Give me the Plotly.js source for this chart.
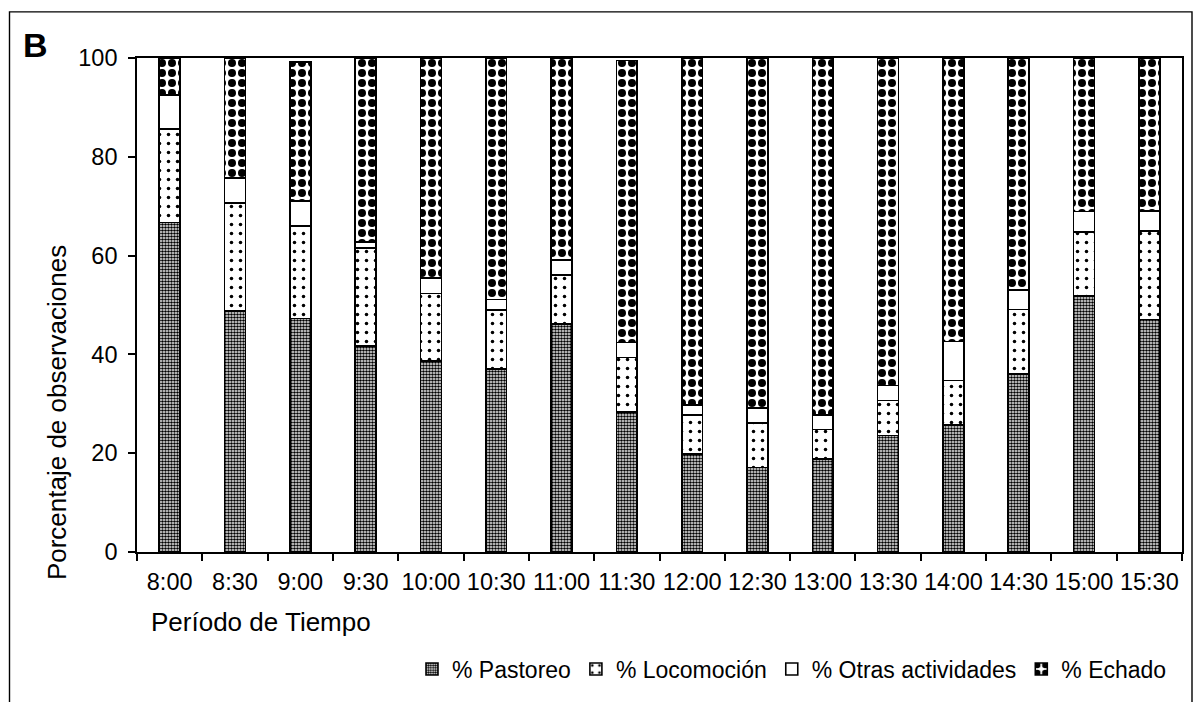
<!DOCTYPE html>
<html>
<head>
<meta charset="utf-8">
<script src="https://cdn.plot.ly/plotly-3.0.1.min.js"></script>
<style>
  html, body { margin: 0; padding: 0; background: #fff; }
  #chart { width: 1194px; height: 702px; }
</style>
</head>
<body>
<div id="chart"></div>
<script>
const periods = ["8:00","8:30","9:00","9:30","10:00","10:30","11:00","11:30","12:00","12:30","13:00","13:30","14:00","14:30","15:00","15:30"];
const pastoreo    = [66.7, 48.8, 47.3, 41.7, 38.7, 37.0, 46.2, 28.3, 19.8, 17.1, 18.8, 23.6, 25.7, 36.0, 51.8, 47.1];
const locomocion  = [18.9, 21.9, 18.7, 19.9, 13.6, 12.0,  9.9, 11.1,  7.9,  9.0,  6.0,  7.1,  9.0, 13.1, 13.0, 17.9];
const otras       = [ 6.9,  5.0,  5.1,  1.1,  3.2,  2.1,  3.0,  3.0,  2.0,  3.1,  2.9,  3.0,  7.9,  3.9,  4.1,  4.0];
const echado      = [ 7.5, 24.3, 28.1, 37.3, 44.5, 48.9, 40.9, 57.1, 70.3, 70.8, 72.3, 66.3, 57.4, 47.0, 31.1, 31.0];
const seriesNames = ["% Pastoreo", "% Locomoción", "% Otras actividades", "% Echado"];
const yTicks = [0, 20, 40, 60, 80, 100];

const FONT = "Liberation Sans, Arial, sans-serif";
const outline = { color: "#000", width: 1.6 };

function bar(name, values, pattern) {
  return {
    type: "bar",
    name: name,
    x: periods,
    y: values,
    marker: {
      color: "#ffffff",
      line: outline,
      pattern: pattern
    },
    hoverinfo: "x+y+name"
  };
}

const data = [
  bar(seriesNames[0], pastoreo,   { shape: ".", size: 3,  solidity: 0.6,  fgcolor: "#000", bgcolor: "#fff", fgopacity: 1 }),
  bar(seriesNames[1], locomocion, { shape: ".", size: 9,  solidity: 0.12, fgcolor: "#000", bgcolor: "#fff", fgopacity: 1 }),
  bar(seriesNames[2], otras,      { shape: "",  fgcolor: "#000", bgcolor: "#fff" }),
  bar(seriesNames[3], echado,     { shape: ".", size: 10, solidity: 0.5, fgcolor: "#000", bgcolor: "#fff", fgopacity: 1 })
];

// plot area: x 137..1182, y 58..556
const L = 137, R = 12, T = 58, B = 146;
const W = 1194 - L - R, H = 702 - T - B;
const px = v => (v - L) / W;
const py = v => (702 - B - v) / H;

const layout = {
  width: 1194,
  height: 702,
  margin: { l: L, r: R, t: T, b: B, pad: 0 },
  paper_bgcolor: "#fff",
  plot_bgcolor: "#fff",
  font: { family: FONT, size: 23, color: "#000" },
  barmode: "stack",
  bargap: 0.68,
  showlegend: true,
  legend: {
    orientation: "h",
    x: px(1172), xanchor: "right",
    y: py(674), yanchor: "middle",
    traceorder: "normal",
    font: { family: FONT, size: 23, color: "#000" },
    itemwidth: 30,
    bgcolor: "rgba(0,0,0,0)"
  },
  xaxis: {
    type: "category",
    showline: true, linecolor: "#000", linewidth: 1.6,
    mirror: true,
    ticks: "outside", ticklen: 7, tickwidth: 1.6, tickcolor: "#000",
    tickson: "boundaries",
    tickangle: 0,
    ticklabelstandoff: 8,
    showgrid: false, zeroline: false,
    tickfont: { family: FONT, size: 23.5, color: "#000" },
    automargin: false
  },
  yaxis: {
    range: [0, 100],
    tickvals: yTicks,
    ticktext: yTicks.map(String),
    showline: true, linecolor: "#000", linewidth: 1.6,
    mirror: true,
    ticks: "outside", ticklen: 7, tickwidth: 1.6, tickcolor: "#000",
    ticklabelstandoff: 6,
    showgrid: false, zeroline: false,
    tickfont: { family: FONT, size: 23.5, color: "#000" },
    automargin: false
  },
  annotations: [
    { text: "B", xref: "paper", yref: "paper", x: px(35), y: py(45), xanchor: "center", yanchor: "middle",
      showarrow: false, font: { family: FONT, size: 34, color: "#000", weight: "bold" } },
    { text: "Período de Tiempo", xref: "paper", yref: "paper", x: px(149), y: py(627), xanchor: "left", yanchor: "middle",
      showarrow: false, font: { family: FONT, size: 26, color: "#000" } },
    { text: "Porcentaje de observaciones", xref: "paper", yref: "paper", x: px(57), y: py(416), xanchor: "center", yanchor: "middle",
      textangle: -90, showarrow: false, font: { family: FONT, size: 26, color: "#000" } }
  ],
  shapes: [
    { type: "rect", xref: "paper", yref: "paper", x0: px(9.5), x1: px(1192), y0: py(720), y1: py(11.5),
      line: { color: "#000", width: 1.4 }, fillcolor: "rgba(0,0,0,0)", layer: "below" }
  ]
};

Plotly.newPlot("chart", data, layout, { displayModeBar: false, responsive: false });
</script>
</body>
</html>
